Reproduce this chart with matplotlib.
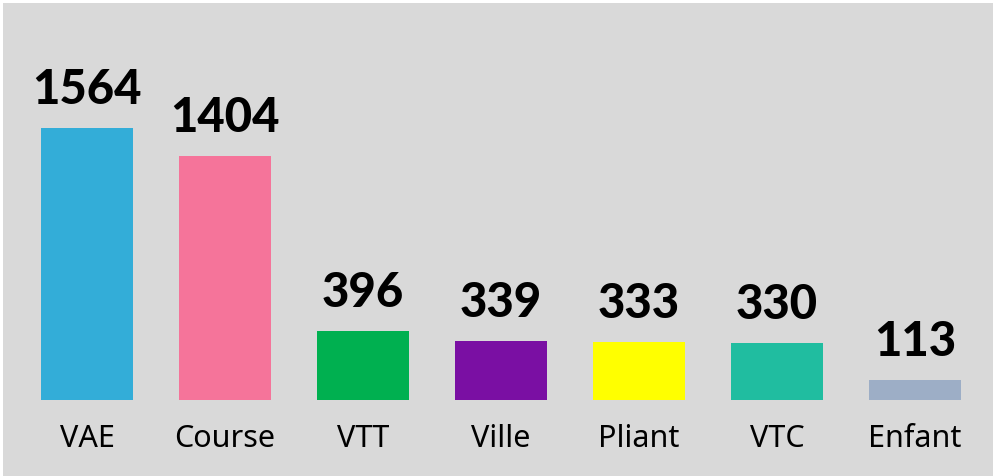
import matplotlib.pyplot as plt
from matplotlib.patches import Rectangle

categories = ['VAE', 'Course', 'VTT', 'Ville', 'Pliant', 'VTC', 'Enfant']
values = [1564, 1404, 396, 339, 333, 330, 113]
colors = ['#33add8', '#f5749a', '#00b050', '#7a0fa3', '#ffff00', '#20bda0', '#9daec6']

W, H = 996, 476
fig = plt.figure(figsize=(W / 100, H / 100), dpi=100)
fig.patch.set_facecolor('white')
# fond gris avec petite marge blanche en haut / a gauche / a droite
fig.add_artist(Rectangle((3 / W, 0), 990 / W, 473 / H, transform=fig.transFigure,
                         facecolor='#d9d9d9', edgecolor='none', zorder=-5))

ax = fig.add_axes([18 / W, 76 / H, 966 / W, 397 / H])
ax.set_zorder(2)
ax.patch.set_alpha(0)
x = range(len(categories))
ax.bar(x, values, width=0.667, color=colors)
ax.set_xlim(-0.5, 6.5)
ax.set_ylim(0, 2283)

for i, v in enumerate(values):
    ax.annotate(str(v), (i, v), xytext=(0, 16), textcoords='offset pixels',
                ha='center', va='bottom', fontsize=34, fontweight='black',
                family=['Lato', 'DejaVu Sans'], color='black')

ax.set_xticks(list(x))
ax.set_xticklabels(categories, fontsize=22, family=['Noto Sans', 'DejaVu Sans'])
ax.tick_params(axis='x', length=0, pad=17)
ax.set_yticks([])
for s in ax.spines.values():
    s.set_visible(False)

fig.savefig('out.png', dpi=100, facecolor=fig.get_facecolor())
